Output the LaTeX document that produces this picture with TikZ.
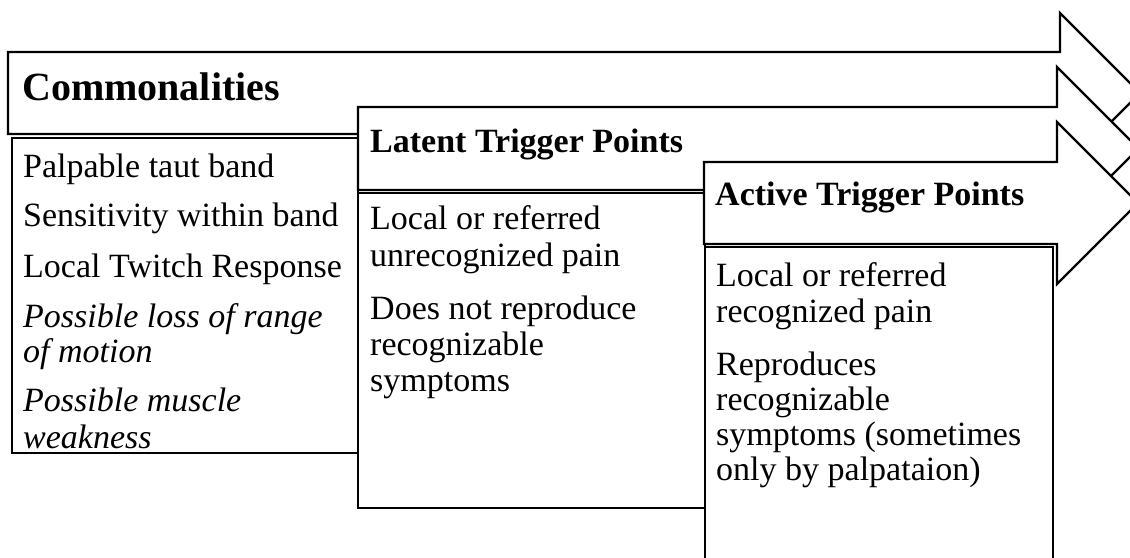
\documentclass[tikz,border=0pt]{standalone}
\usepackage{fontspec}
\setmainfont{Liberation Serif}
\begin{document}
\begin{tikzpicture}[x=1pt,y=-1pt,
  shapeline/.style={draw=black, line width=2.2pt, fill=white, line join=miter},
  body/.style={anchor=base west, inner sep=0pt, font=\fontsize{34}{36}\selectfont},
  ibody/.style={body, font=\fontsize{34}{36}\selectfont\itshape},
  head/.style={anchor=base west, inner sep=0pt, font=\fontsize{34}{36}\selectfont\bfseries},
  bighead/.style={anchor=base west, inner sep=0pt, font=\fontsize{40}{42}\selectfont\bfseries}]
\useasboundingbox (0,0) rectangle (1130,557);
\fill[white] (0,0) rectangle (1130,557);
\clip (0,0) rectangle (1130,557);
% arrow 1 and its box
\draw[shapeline] (8,52) -- (1060,52) -- (1060,13) -- (1140,93) -- (1060,173) -- (1060,134) -- (8,134) -- cycle;
\node[bighead] (h1) at (22,100) {Commonalities};
\draw[shapeline] (12,138) rectangle (358,453);
\node[body] (a1) at (23,177) {Palpable taut band};
\node[body] (a2) at (23,226) {Sensitivity within band};
\node[body] (a3) at (23,277) {Local Twitch Response};
\node[ibody] (a4) at (23,327) {Possible loss of range};
\node[ibody] (a5) at (23,362) {of motion};
\node[ibody] (a6) at (23,411) {Possible muscle};
\node[ibody] (a7) at (23,448) {weakness};
% arrow 2 and its box
\draw[shapeline] (358,107) -- (1057,107) -- (1057,67) -- (1138.5,148.5) -- (1057,230) -- (1057,190) -- (358,190) -- cycle;
\node[head] (h2) at (370,152) {Latent Trigger Points};
\draw[shapeline] (358,193) rectangle (705,508);
\node[body] (b1) at (370,229) {Local or referred};
\node[body] (b2) at (370,266) {unrecognized pain};
\node[body] (b3) at (370,319) {Does not reproduce};
\node[body] (b4) at (370,355) {recognizable};
\node[body] (b5) at (370,391) {symptoms};
% arrow 3 and its box
\draw[shapeline] (704,162) -- (1057,162) -- (1057,122) -- (1138,203) -- (1057,284) -- (1057,244) -- (704,244) -- cycle;
\node[head] (h3) at (715,205) {Active Trigger Points};
\draw[shapeline] (705,247) rectangle (1053,600);
\node[body] (c1) at (716,286) {Local or referred};
\node[body] (c2) at (716,322) {recognized pain};
\node[body] (c3) at (716,375) {Reproduces};
\node[body] (c4) at (716,410) {recognizable};
\node[body] (c5) at (716,445) {symptoms (sometimes};
\node[body] (c6) at (716,480) {only by palpataion)};
\end{tikzpicture}
\end{document}
